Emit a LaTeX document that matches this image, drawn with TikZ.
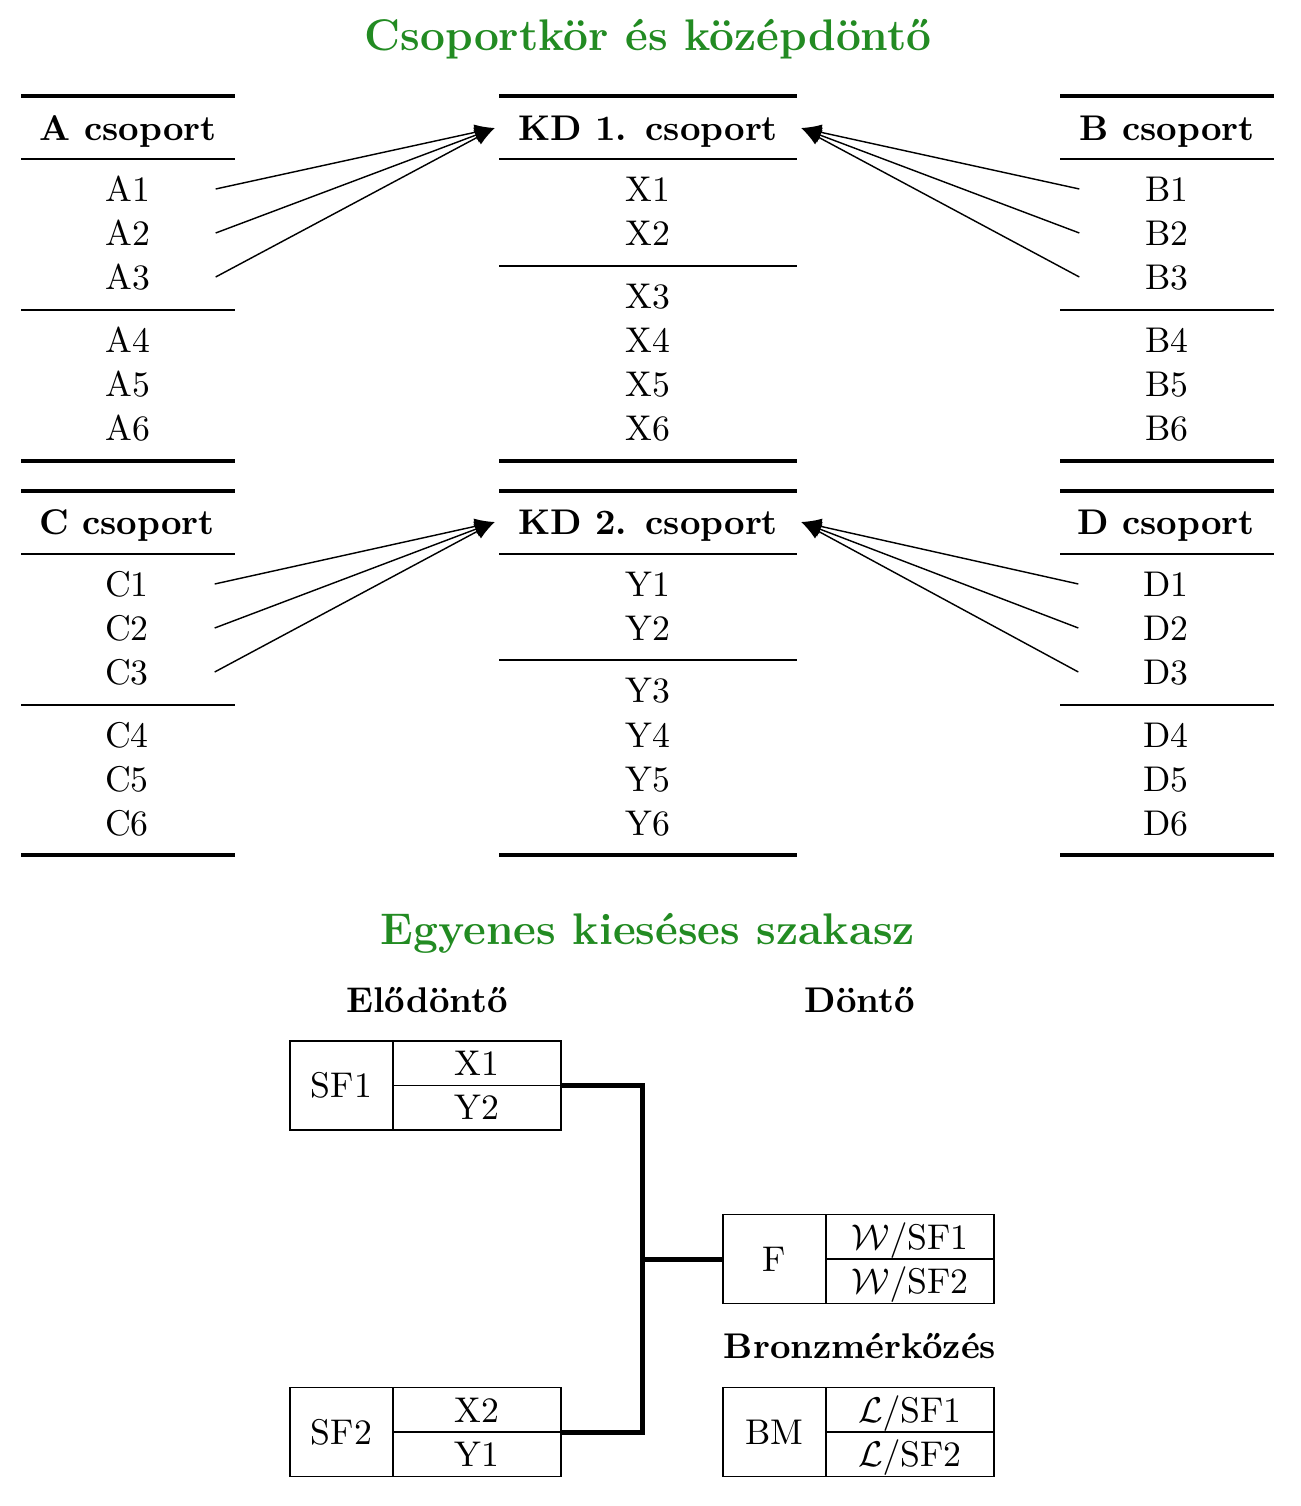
\documentclass[tikz,border=0pt]{standalone}
\usepackage{fontspec}
\usetikzlibrary{positioning, arrows.meta}
\definecolor{titlegreen}{HTML}{228B22}

\begin{document}
\begin{tikzpicture}[
  x=0.28pt, y=-0.28pt,
  cell/.style={inner sep=0pt, minimum width=48.7pt, text height=1.59ex, text depth=0pt},
  head/.style={cell, font=\bfseries},
  kdhead/.style={head, minimum width=85.4pt},
  title/.style={inner sep=0pt, text height=1.59ex, text depth=0pt,
    font=\fontsize{12.4}{15}\selectfont\bfseries, text=titlegreen},
  stage/.style={inner sep=0pt, text height=1.59ex, text depth=0pt, font=\bfseries},
  thickrule/.style={line width=0.85pt},
  thinrule/.style={line width=0.55pt},
  feed/.style={-{Latex[length=5.6pt,width=4.5pt]}, line width=0.4pt},
  lbl/.style={draw, line width=0.4pt, inner sep=0pt, outer sep=0pt,
    minimum width=28.8pt, minimum height=24.9pt, text height=1.59ex, text depth=0pt},
  team/.style={lbl, minimum width=47pt, minimum height=12.45pt},
  bracket/.style={line width=1.4pt},
]
\useasboundingbox (0,0) rectangle (1300,1506);

% ---- group stage and main round
\node[title] (top) at (648,38) {Csoportkör és középdöntő};

% A csoport
\draw[thickrule] (21,96) -- (235,96);
\node[head] (ahead) at (128,128) {A csoport};
\draw[thinrule] (21,159) -- (235,159);
\node[cell] (a1) at (128,189) {A1};
\node[cell] (a2) at (128,233) {A2};
\node[cell] (a3) at (128,277) {A3};
\draw[thinrule] (21,310) -- (235,310);
\node[cell] (a4) at (128,340) {A4};
\node[cell] (a5) at (128,384) {A5};
\node[cell] (a6) at (128,428) {A6};
\draw[thickrule] (21,461) -- (235,461);

% KD 1. csoport
\draw[thickrule] (499,96) -- (797,96);
\node[kdhead] (kd1) at (648,128) {KD 1. csoport};
\draw[thinrule] (499,159) -- (797,159);
\node[cell] (x1) at (648,189) {X1};
\node[cell] (x2) at (648,233) {X2};
\draw[thinrule] (499,266) -- (797,266);
\node[cell] (x3) at (648,296) {X3};
\node[cell] (x4) at (648,340) {X4};
\node[cell] (x5) at (648,384) {X5};
\node[cell] (x6) at (648,428) {X6};
\draw[thickrule] (499,461) -- (797,461);

% B csoport
\draw[thickrule] (1060,96) -- (1274,96);
\node[head] (bhead) at (1167,128) {B csoport};
\draw[thinrule] (1060,159) -- (1274,159);
\node[cell] (b1) at (1167,189) {B1};
\node[cell] (b2) at (1167,233) {B2};
\node[cell] (b3) at (1167,277) {B3};
\draw[thinrule] (1060,310) -- (1274,310);
\node[cell] (b4) at (1167,340) {B4};
\node[cell] (b5) at (1167,384) {B5};
\node[cell] (b6) at (1167,428) {B6};
\draw[thickrule] (1060,461) -- (1274,461);

% C csoport
\draw[thickrule] (21,491) -- (235,491);
\node[head] (chead) at (127,522) {C csoport};
\draw[thinrule] (21,554) -- (235,554);
\node[cell] (c1) at (127,584) {C1};
\node[cell] (c2) at (127,628) {C2};
\node[cell] (c3) at (127,672) {C3};
\draw[thinrule] (21,705) -- (235,705);
\node[cell] (c4) at (127,735) {C4};
\node[cell] (c5) at (127,779) {C5};
\node[cell] (c6) at (127,823) {C6};
\draw[thickrule] (21,855) -- (235,855);

% KD 2. csoport
\draw[thickrule] (499,491) -- (797,491);
\node[kdhead] (kd2) at (648,522) {KD 2. csoport};
\draw[thinrule] (499,554) -- (797,554);
\node[cell] (y1) at (648,584) {Y1};
\node[cell] (y2) at (648,628) {Y2};
\draw[thinrule] (499,660) -- (797,660);
\node[cell] (y3) at (648,690) {Y3};
\node[cell] (y4) at (648,735) {Y4};
\node[cell] (y5) at (648,779) {Y5};
\node[cell] (y6) at (648,823) {Y6};
\draw[thickrule] (499,855) -- (797,855);

% D csoport
\draw[thickrule] (1060,491) -- (1274,491);
\node[head] (dhead) at (1166,522) {D csoport};
\draw[thinrule] (1060,554) -- (1274,554);
\node[cell] (d1) at (1166,584) {D1};
\node[cell] (d2) at (1166,628) {D2};
\node[cell] (d3) at (1166,672) {D3};
\draw[thinrule] (1060,705) -- (1274,705);
\node[cell] (d4) at (1166,735) {D4};
\node[cell] (d5) at (1166,779) {D5};
\node[cell] (d6) at (1166,823) {D6};
\draw[thickrule] (1060,855) -- (1274,855);

% advancing teams
\draw[feed] (a1.east) -- (kd1.west);
\draw[feed] (a2.east) -- (kd1.west);
\draw[feed] (a3.east) -- (kd1.west);
\draw[feed] (b1.west) -- (kd1.east);
\draw[feed] (b2.west) -- (kd1.east);
\draw[feed] (b3.west) -- (kd1.east);
\draw[feed] (c1.east) -- (kd2.west);
\draw[feed] (c2.east) -- (kd2.west);
\draw[feed] (c3.east) -- (kd2.west);
\draw[feed] (d1.west) -- (kd2.east);
\draw[feed] (d2.west) -- (kd2.east);
\draw[feed] (d3.west) -- (kd2.east);

% ---- knockout stage
\node[title] (ko) at (648,932) {Egyenes kieséses szakasz};
\node[stage] (semi) at (427,1000) {Elődöntő};
\node[stage] (final) at (860,1000) {Döntő};

\node[lbl] (sf1) at (341.5,1085.5) {SF1};
\node[team, anchor=north west] (sf1a) at (sf1.north east) {X1};
\node[team, anchor=north] (sf1b) at (sf1a.south) {Y2};

\node[lbl] (sf2) at (341.5,1432) {SF2};
\node[team, anchor=north west] (sf2a) at (sf2.north east) {X2};
\node[team, anchor=north] (sf2b) at (sf2a.south) {Y1};

\node[lbl] (fin) at (774.5,1259) {F};
\node[team, anchor=north west] (fina) at (fin.north east) {$\mathcal{W}/$SF1};
\node[team, anchor=north] (finb) at (fina.south) {$\mathcal{W}/$SF2};

\node[stage] (bronze) at (860,1346) {Bronzmérkőzés};
\node[lbl] (bm) at (774.5,1432) {BM};
\node[team, anchor=north west] (bma) at (bm.north east) {$\mathcal{L}/$SF1};
\node[team, anchor=north] (bmb) at (bma.south) {$\mathcal{L}/$SF2};

\coordinate (join) at (642,1259);
\draw[bracket] (sf1a.south east) -| (join) |- (sf2a.south east);
\draw[bracket] (join) -- (fin.west);

\end{tikzpicture}
\end{document}
